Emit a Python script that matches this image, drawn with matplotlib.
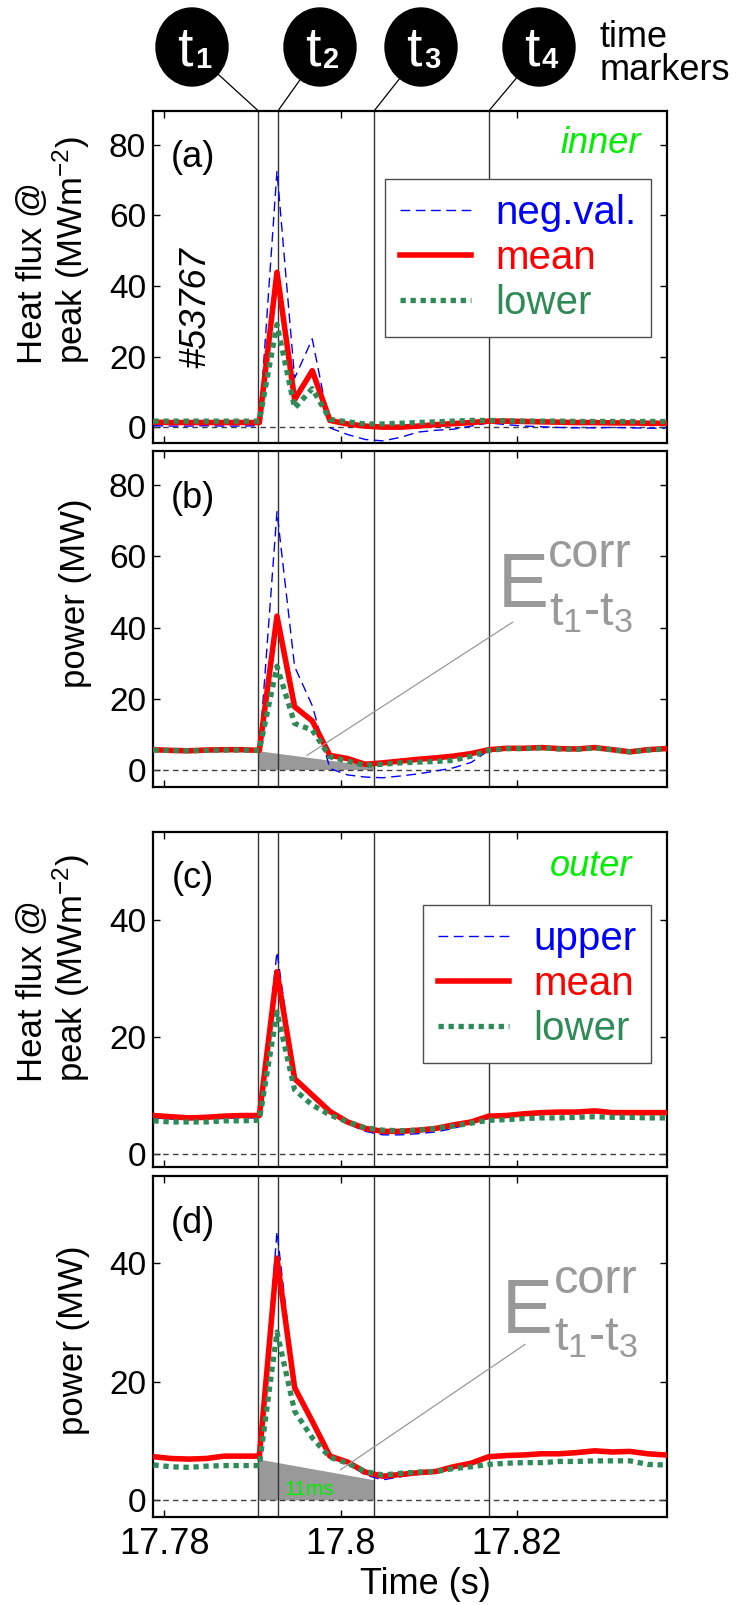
import numpy as np
import matplotlib.pyplot as plt
from matplotlib.patches import Ellipse

plt.rcParams['font.family'] = ['Liberation Sans', 'DejaVu Sans']
plt.rcParams['mathtext.fontset'] = 'custom'
plt.rcParams['mathtext.rm'] = 'Liberation Sans'
plt.rcParams['mathtext.it'] = 'Liberation Sans:italic'

# ---- data ----
time = [17.7788, 17.7808, 17.7828, 17.7848, 17.7868, 17.7888, 17.7908, 17.7928,
        17.7948, 17.7968, 17.7988, 17.8008, 17.8028, 17.8048, 17.8068, 17.8088,
        17.8108, 17.8128, 17.8148, 17.8168, 17.8188, 17.8208, 17.8228, 17.8248,
        17.8268, 17.8288, 17.8308, 17.8328, 17.8348, 17.8368]

# (a) inner heat flux at peak
neg_a = [0.4, 0.3, 0.3, 0.4, 0.3, 0.3, 0.4, 72.6, 13.9, 25.0, -0.2, -2.1, -3.5, -3.9, -2.9,
         -1.4, -0.9, -0.6, 0.3, 1.2, 0.7, 0.3, 0.1, -0.1, -0.2, -0.2, -0.1, -0.2, -0.3, -0.3]
mean_a = [1.4, 1.3, 1.3, 1.3, 1.3, 1.3, 1.3, 43.9, 7.8, 16.0, 1.9, 0.9, 0.3, 0.0, 0.0,
          0.3, 0.7, 1.0, 1.3, 1.7, 1.7, 1.6, 1.5, 1.4, 1.3, 1.3, 1.2, 1.2, 1.1, 1.1]
low_a = [1.7, 1.7, 1.7, 1.7, 1.7, 1.7, 1.7, 29.1, 5.4, 10.9, 2.2, 1.5, 0.9, 0.9, 1.1,
         1.3, 1.5, 1.7, 1.9, 1.9, 1.8, 1.7, 1.7, 1.7, 1.6, 1.6, 1.6, 1.6, 1.6, 1.6]

# (b) inner power
neg_b = [5.5, 5.3, 5.2, 5.4, 5.5, 5.5, 5.3, 72.6, 29.0, 18.0, 0.3, -1.5, -2.1, -2.3, -1.8,
         -1.2, -0.4, 0.5, 2.0, 5.4, 6.1, 6.2, 6.3, 6.0, 5.8, 6.3, 5.7, 4.9, 5.6, 6.0]
mean_b = [5.6, 5.4, 5.3, 5.5, 5.6, 5.6, 5.4, 43.2, 17.7, 13.7, 4.0, 3.1, 1.5, 1.9, 2.4,
          2.9, 3.3, 3.8, 4.5, 5.6, 6.0, 6.0, 6.2, 5.9, 5.8, 6.2, 5.6, 5.0, 5.6, 5.9]
low_b = [5.5, 5.4, 5.3, 5.4, 5.5, 5.5, 5.4, 29.1, 13.0, 11.1, 3.6, 2.4, 1.2, 1.5, 1.9,
         2.1, 2.3, 2.6, 3.8, 5.4, 5.9, 5.9, 6.1, 5.8, 5.7, 6.1, 5.6, 5.0, 5.5, 5.8]

# (c) outer heat flux at peak
up_c = [6.1, 5.9, 5.8, 5.9, 6.0, 6.1, 6.1, 34.5, 13.1, 10.0, 7.0, 5.1, 3.8, 3.2, 3.2,
        3.4, 3.7, 4.3, 5.2, 6.0, 6.2, 6.5, 6.7, 6.8, 6.8, 7.0, 6.7, 6.7, 6.7, 6.7]
mean_c = [6.5, 6.3, 6.1, 6.2, 6.4, 6.5, 6.5, 31.1, 12.8, 10.0, 7.2, 5.4, 4.3, 3.8, 3.8,
          4.0, 4.3, 4.9, 5.4, 6.4, 6.5, 6.8, 7.0, 7.1, 7.1, 7.3, 7.0, 7.0, 7.0, 7.0]
low_c = [5.6, 5.4, 5.4, 5.4, 5.6, 5.6, 5.7, 24.2, 10.9, 8.3, 6.6, 5.4, 4.4, 4.0, 3.9,
         4.0, 4.3, 4.7, 5.2, 5.7, 5.8, 6.0, 6.1, 6.1, 6.2, 6.3, 6.2, 6.2, 6.1, 6.1]

# (d) outer power
up_d = [7.2, 6.9, 6.8, 6.9, 7.3, 7.3, 7.3, 45.4, 19.3, 13.2, 7.2, 6.2, 4.2, 3.4, 3.9,
        4.4, 4.6, 5.4, 6.0, 7.1, 7.4, 7.5, 7.7, 7.7, 7.9, 8.2, 8.0, 8.1, 7.7, 7.5]
mean_d = [7.3, 7.0, 6.9, 7.0, 7.4, 7.4, 7.4, 40.9, 19.0, 13.3, 7.4, 6.4, 4.7, 4.0, 4.3,
          4.6, 4.8, 5.6, 6.2, 7.3, 7.5, 7.6, 7.8, 7.8, 8.0, 8.3, 8.1, 8.2, 7.8, 7.6]
low_d = [5.9, 5.6, 5.5, 5.7, 5.8, 5.8, 5.8, 28.4, 15.0, 10.5, 7.2, 6.2, 4.8, 4.2, 4.5,
         4.7, 4.8, 5.3, 5.6, 6.0, 6.2, 6.3, 6.3, 6.5, 6.5, 6.6, 6.6, 6.6, 6.0, 5.9]

t_markers = [17.7907, 17.7929, 17.8038, 17.8168]
marker_names = ['1', '2', '3', '4']

# corrected-energy triangles (value at t1 and at t3)
fill_b = [5.3, 1.0]
fill_d = [6.9, 3.4]
# leader lines of the E labels: (t, value) start and end
leader_b = [(17.7962, 4.0), (17.8195, 41.5)]
leader_d = [(17.8000, 5.1), (17.8209, 26.3)]

xticks = [17.78, 17.80, 17.82]
xticklabels = ['17.78', '17.8', '17.82']

GREEN = '#2e8b57'
LIME = '#00ee00'

fig = plt.figure(figsize=(7.5, 16.05), dpi=100)

L, W = 153 / 750, 514 / 750
def frac(top, bottom):
    return [L, 1 - bottom / 1605, W, (bottom - top) / 1605]

ax_a = fig.add_axes(frac(111, 443))
ax_b = fig.add_axes(frac(451, 787))
ax_c = fig.add_axes(frac(832, 1167))
ax_d = fig.add_axes(frac(1176, 1517))

panels = [
    (ax_a, neg_a, mean_a, low_a, 'neg.val.', (-4.5, 89.6), [0, 20, 40, 60, 80], '(a)'),
    (ax_b, neg_b, mean_b, low_b, None, (-4.9, 89.7), [0, 20, 40, 60, 80], '(b)'),
    (ax_c, up_c, mean_c, low_c, 'upper', (-2.3, 55.0), [0, 20, 40], '(c)'),
    (ax_d, up_d, mean_d, low_d, None, (-2.9, 54.8), [0, 20, 40], '(d)'),
]

for ax, blue, red, grn, blab, ylim, yt, plab in panels:
    ax.plot(time, blue, color='blue', lw=1.0, dashes=(7, 4), label=blab, zorder=3)
    ax.plot(time, red, color='red', lw=4.0, label='mean', zorder=4)
    ax.plot(time, grn, color=GREEN, lw=3.8, linestyle=(0, (1.0, 0.9)),
            dash_capstyle='butt', label='lower', zorder=5)
    ax.axhline(0, color='0.25', lw=1.0, dashes=(4, 3), zorder=2)
    for t in t_markers:
        ax.axvline(t, color='0.2', lw=1.0, zorder=2)
    ax.set_xlim(17.77875, 17.8370)
    ax.set_ylim(*ylim)
    ax.set_yticks(yt)
    ax.set_xticks(xticks)
    ax.tick_params(direction='in', top=True, right=True, length=5, width=1,
                   labelsize=24, pad=5)
    ax.tick_params(axis='x', labelsize=26, pad=7)
    for s in ax.spines.values():
        s.set_linewidth(1.6)
    ax.text(0.078, 0.86, plab, transform=ax.transAxes, fontsize=26,
            ha='center', va='center')
    if ax is ax_d:
        ax.set_xticklabels(xticklabels)
    else:
        ax.set_xticklabels([])

for ax in (ax_a, ax_c):
    leg = ax.legend(loc='upper right', bbox_to_anchor=(0.969, 0.795 if ax is ax_a else 0.782),
                    fontsize=29, fancybox=False, framealpha=1, edgecolor='0.3',
                    borderpad=0.37, labelspacing=0.17, handlelength=1.75,
                    handletextpad=0.6, labelcolor='linecolor', borderaxespad=0)
    leg.get_frame().set_linewidth(1.0)

ax_a.text(0.949, 0.903, 'inner', transform=ax_a.transAxes, color=LIME,
          fontsize=26, style='italic', ha='right', va='center')
ax_c.text(0.932, 0.898, 'outer', transform=ax_c.transAxes, color=LIME,
          fontsize=26, style='italic', ha='right', va='center')
ax_a.text(0.084, 0.407, '#53767', transform=ax_a.transAxes, fontsize=26,
          style='italic', rotation=90, ha='center', va='center')

# y labels
hf = 'Heat flux @\npeak (MWm$^{-2}$)'
for ax, y in ((ax_a, 0.58), (ax_c, 0.594)):
    ax.text(-0.193, y, hf, transform=ax.transAxes, fontsize=25, rotation=90,
            ha='center', va='center', multialignment='left', linespacing=1.05,
            rotation_mode='anchor')
ax_b.text(-0.150, 0.577, 'power (MW)', transform=ax_b.transAxes, fontsize=25,
          rotation=90, ha='center', va='center', rotation_mode='anchor')
ax_d.text(-0.154, 0.519, 'power (MW)', transform=ax_d.transAxes, fontsize=25,
          rotation=90, ha='center', va='center', rotation_mode='anchor')

ax_d.set_xlabel('Time (s)', fontsize=26)
ax_d.xaxis.set_label_coords(0.531, -0.147)

# corrected energy triangles and labels
t1, t3 = t_markers[0], t_markers[2]
for ax, fv, leader, pos in ((ax_b, fill_b, leader_b, (0.671, 0.536, 0.769, 0.655, 0.771, 0.482)),
                            (ax_d, fill_d, leader_d, (0.679, 0.540, 0.779, 0.657, 0.781, 0.490))):
    ax.fill_between([t1, t3], fv, [0, 0], color='0.6', lw=0, zorder=1.5)
    (x0, y0), (x1, y1) = leader
    ax.plot([x0, x1], [y0, y1], color='0.6', lw=0.9, zorder=6)
    ax.text(pos[0], pos[1], 'E', transform=ax.transAxes, fontsize=55, color='0.6',
            va='baseline', ha='left')
    ax.text(pos[2], pos[3], 'corr', transform=ax.transAxes, fontsize=35, color='0.6',
            va='baseline', ha='left')
    ax.text(pos[4], pos[5], r'$\mathregular{t_1}$-$\mathregular{t_3}$', transform=ax.transAxes,
            fontsize=35, color='0.6', va='baseline', ha='left')

ax_d.text(17.7964, 1.7, '11ms', color=LIME, fontsize=15, ha='center', va='center', zorder=7)

# time marker bubbles above panel (a)
ov = fig.add_axes([0, 0, 1, 1])
ov.set_xlim(0, 750)
ov.set_ylim(1605, 0)
ov.axis('off')
centres = [192, 320, 421, 539]
cy, rx, ry = 47, 36, 39
for cx, t, name in zip(centres, t_markers, marker_names):
    disp = ax_a.transData.transform((t, ax_a.get_ylim()[1]))
    ex, ey = ov.transData.inverted().transform(disp)
    ang = np.arctan2(ey - cy, ex - cx)
    sx, sy = cx + rx * np.cos(ang), cy + ry * np.sin(ang)
    ov.plot([sx, ex], [sy, ey], color='black', lw=0.9)
    ov.add_patch(Ellipse((cx, cy), 2 * rx, 2 * ry, color='black'))
    ov.text(cx + 1, cy + 19, 't', color='white', fontsize=40, ha='right', va='baseline')
    ov.text(cx + 3, cy + 21, name, color='white', fontsize=21, fontweight='bold',
            ha='left', va='baseline')
ov.text(600, 54, 'time\nmarkers', fontsize=26, ha='left', va='center', linespacing=0.95)

fig.savefig('out.png', dpi=100)
